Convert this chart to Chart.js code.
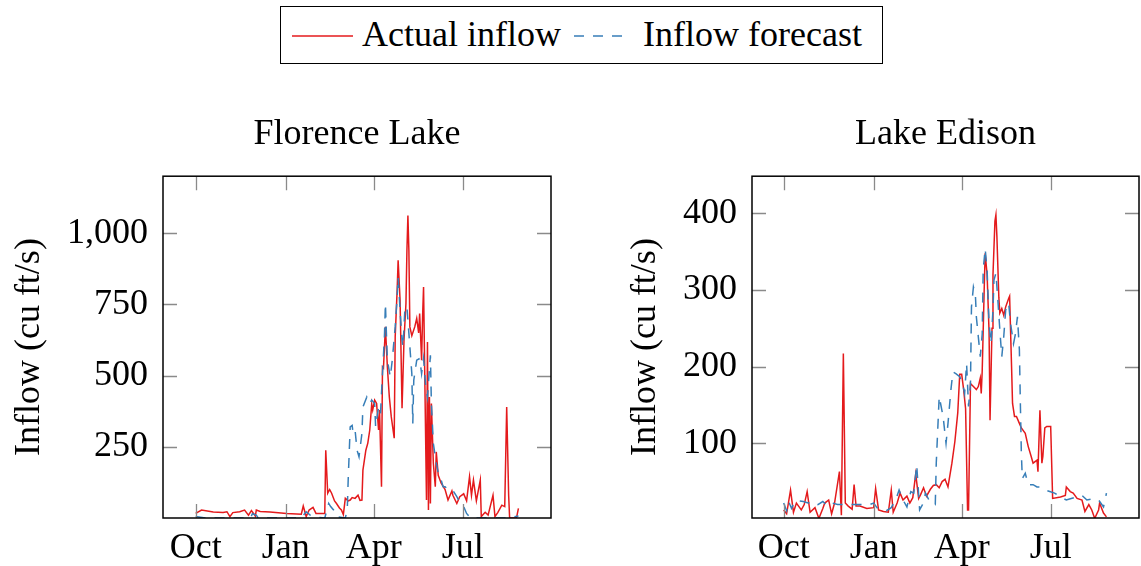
<!DOCTYPE html>
<html>
<head>
<meta charset="utf-8">
<title>Inflow: Florence Lake and Lake Edison</title>
<script src="https://cdn.jsdelivr.net/npm/chart.js@4.4.1/dist/chart.umd.min.js"></script>
<style>
  html, body { margin: 0; padding: 0; background: #fff; }
  body { width: 1141px; height: 566px; position: relative; overflow: hidden; font-family: "Liberation Serif", "DejaVu Serif", serif; }
  canvas { position: absolute; top: 0; }
  #legend { position: absolute; left: 280px; top: 6px; width: 603px; height: 58px; border: 1.5px solid #000; box-sizing: border-box; }
  .lg-text { position: absolute; top: 9px; font-size: 36px; line-height: 36px; color: #000; white-space: nowrap; }
  .lg-line { position: absolute; top: 27px; }
</style>
</head>
<body>
<div id="legend">
  <svg class="lg-line" style="left:11px" width="62" height="4"><line x1="0" y1="2" x2="61" y2="2" stroke="#e41a1c" stroke-width="1.5"/></svg>
  <span class="lg-text" style="left:81px">Actual inflow</span>
  <svg class="lg-line" style="left:293px" width="56" height="4"><line x1="0" y1="2" x2="55" y2="2" stroke="#377eb8" stroke-width="1.5" stroke-dasharray="10 9"/></svg>
  <span class="lg-text" style="left:362px">Inflow forecast</span>
</div>
<canvas id="florence" width="600" height="566" style="left:0px"></canvas>
<canvas id="edison" width="541" height="566" style="left:600px"></canvas>
<script>
// day 0 = 1 Oct, values in cu ft/s
const monthTicks = [0, 92, 182, 273];
const monthLabels = ['Oct', 'Jan', 'Apr', 'Jul'];

const florenceTicks = [250, 500, 750, 1000];
const edisonTicks = [100, 200, 300, 400];

const florenceActual = [[0,16],[6,28],[18,21],[28,19],[32,22],[35,5],[38,19],[45,22],[50,28],[54,10],[57,26],[61,7],[62,28],[66,23],[76,21],[93,16],[108,13],[110,42],[113,5],[116,28],[120,37],[123,16],[132,16],[133,238],[135,87],[137,100],[139,87],[142,60],[144,51],[147,35],[149,28],[151,12],[153,69],[156,60],[158,63],[160,72],[163,69],[166,80],[168,62],[170,63],[171,168],[174,238],[176,263],[178,309],[180,400],[181,379],[183,414],[185,402],[187,309],[188,379],[190,110],[191,530],[192,526],[194,671],[196,530],[198,425],[200,355],[203,280],[204,636],[206,800],[207,905],[209,764],[211,385],[213,624],[215,753],[216,940],[217,1062],[218,940],[219,671],[221,640],[224,671],[226,701],[228,650],[229,718],[231,554],[232,706],[233,811],[236,63],[237,618],[238,28],[239,425],[240,51],[241,402],[243,192],[245,110],[246,232],[248,150],[251,122],[255,100],[258,63],[262,95],[263,80],[267,51],[270,75],[274,85],[277,60],[280,145],[282,80],[284,133],[287,60],[291,133],[292,5],[296,20],[299,10],[304,80],[306,5],[309,20],[313,45],[316,40],[318,390],[320,80],[321,0],[328,0],[330,34]];

const florenceForecast = [[0,5],[10,0],[30,0],[56,0],[58,15],[62,10],[64,0],[90,0],[108,0],[113,22],[117,10],[124,3],[132,0],[136,51],[138,40],[141,28],[144,5],[153,0],[155,30],[156,140],[158,320],[160,325],[161,297],[163,308],[165,238],[167,215],[170,297],[171,390],[175,425],[178,402],[180,414],[183,402],[184,320],[187,390],[189,367],[191,507],[193,636],[194,753],[195,650],[196,554],[199,495],[201,554],[204,671],[206,776],[207,846],[209,729],[211,624],[212,600],[214,741],[216,741],[218,648],[221,507],[222,332],[223,484],[226,554],[229,560],[231,507],[233,560],[235,472],[237,425],[240,571],[241,402],[243,262],[246,193],[248,158],[250,145],[253,110],[255,110],[260,95],[263,97],[267,75],[270,55],[274,40],[277,16],[281,0],[300,0],[320,0],[330,7]];

const edisonActual = [[0,13],[3,8],[7,39],[10,10],[13,22],[18,13],[21,20],[24,37],[27,10],[32,16],[36,2],[40,15],[42,22],[46,26],[49,8],[52,22],[57,63],[59,6],[61,217],[63,22],[66,18],[70,14],[72,46],[74,18],[78,18],[85,15],[92,16],[94,41],[97,13],[102,11],[107,10],[110,39],[112,10],[116,22],[119,35],[122,26],[126,31],[129,22],[132,29],[135,60],[138,28],[140,33],[143,42],[146,31],[150,40],[153,45],[156,46],[159,42],[162,50],[165,53],[168,43],[172,74],[175,102],[178,140],[180,190],[182,190],[184,170],[186,145],[188,13],[189,13],[191,178],[194,174],[197,170],[199,174],[201,185],[202,165],[203,195],[205,300],[206,348],[208,320],[210,245],[211,130],[213,250],[214,320],[216,390],[217,398],[218,370],[220,290],[221,270],[223,276],[225,267],[227,278],[230,289],[231,292],[233,200],[234,152],[236,135],[238,135],[241,126],[243,120],[247,113],[250,96],[253,83],[255,74],[259,78],[260,63],[262,143],[264,74],[265,83],[267,120],[269,122],[273,122],[275,28],[283,30],[288,32],[289,43],[293,37],[296,35],[300,28],[305,26],[308,11],[312,20],[315,13],[318,2],[322,13],[323,22],[327,9],[330,4]];

const edisonForecast = [[0,22],[3,12],[5,24],[8,15],[11,24],[15,25],[20,24],[25,22],[30,24],[35,20],[40,24],[45,18],[50,22],[55,20],[60,20],[70,20],[80,20],[88,20],[92,22],[96,15],[100,14],[105,12],[110,16],[115,28],[118,39],[122,26],[126,17],[130,37],[133,35],[136,72],[139,13],[142,20],[145,35],[150,22],[155,20],[156,74],[159,161],[161,148],[163,135],[166,100],[168,126],[171,170],[173,193],[176,191],[180,187],[183,178],[185,165],[187,204],[189,148],[191,178],[192,278],[194,304],[196,294],[197,265],[199,239],[201,213],[203,243],[204,326],[206,354],[208,326],[210,256],[212,230],[214,274],[215,313],[217,322],[219,287],[221,248],[223,213],[225,239],[227,274],[230,283],[232,256],[235,230],[237,243],[239,265],[241,222],[242,152],[243,87],[244,54],[247,61],[250,46],[255,46],[259,43],[262,43],[267,39],[272,37],[277,35],[283,30],[289,26],[294,28],[300,30],[305,32],[310,26],[317,28],[322,26],[327,17],[329,28],[330,35]];

const RED = '#e41a1c';
const BLUE = '#377eb8';
const FONT = '"Liberation Serif", "DejaVu Serif", serif';

Chart.defaults.font.family = FONT;
Chart.defaults.color = '#000';

// pgfplots style frame with inward ticks on all four sides
const frameTicks = {
  id: 'frameTicks',
  afterDatasetsDraw(chart) {
    const { ctx, chartArea: a, scales: { x, y } } = chart;
    const len = 14;
    ctx.save();
    ctx.strokeStyle = '#8a8a8a';
    ctx.lineWidth = 1.3;
    ctx.beginPath();
    x.ticks.forEach(t => {
      const px = Math.round(x.getPixelForValue(t.value)) + 0.5;
      ctx.moveTo(px, a.bottom); ctx.lineTo(px, a.bottom - len);
      ctx.moveTo(px, a.top); ctx.lineTo(px, a.top + len);
    });
    y.ticks.forEach(t => {
      const py = Math.round(y.getPixelForValue(t.value)) + 0.5;
      ctx.moveTo(a.left, py); ctx.lineTo(a.left + len, py);
      ctx.moveTo(a.right, py); ctx.lineTo(a.right - len, py);
    });
    ctx.stroke();
    ctx.strokeStyle = '#000';
    ctx.lineWidth = 1.5;
    ctx.strokeRect(a.left, a.top, a.right - a.left, a.bottom - a.top);
    ctx.restore();
  }
};

function toPoints(pairs) {
  return pairs.map(p => ({ x: p[0], y: p[1] }));
}

function makeChart(id, opts) {
  return new Chart(document.getElementById(id), {
    type: 'line',
    data: {
      datasets: [
        { label: 'Actual inflow', data: toPoints(opts.actual), borderColor: RED, borderWidth: 1.5, order: 1 },
        { label: 'Inflow forecast', data: toPoints(opts.forecast), borderColor: BLUE, borderWidth: 1.5, borderDash: [10, 9], order: 0 }
      ]
    },
    options: {
      responsive: false,
      animation: false,
      elements: { point: { radius: 0 }, line: { tension: 0, fill: false } },
      layout: { padding: { top: 113, left: 0, right: opts.padRight, bottom: 0 } },
      plugins: {
        legend: { display: false },
        tooltip: { enabled: false },
        title: {
          display: true, text: opts.title, fullSize: false, color: '#000',
          font: { family: FONT, size: 36, weight: 'normal' },
          padding: { top: 0, bottom: 20 }
        }
      },
      scales: {
        x: {
          type: 'linear', min: opts.xMin, max: opts.xMax,
          grid: { display: false, drawTicks: false },
          border: { display: false },
          afterBuildTicks: s => { s.ticks = monthTicks.map(v => ({ value: v })); },
          afterFit: s => { s.height = 48; },
          ticks: {
            padding: 9, maxRotation: 0, autoSkip: false,
            font: { family: FONT, size: 36 },
            callback: v => monthLabels[monthTicks.indexOf(v)]
          }
        },
        y: {
          type: 'linear', min: opts.yMin, max: opts.yMax,
          grid: { display: false, drawTicks: false },
          border: { display: false },
          afterBuildTicks: s => { s.ticks = opts.yTicks.map(v => ({ value: v })); },
          afterFit: s => { s.width = opts.yWidth; },
          ticks: {
            padding: 15, autoSkip: false,
            font: { family: FONT, size: 36 },
            callback: v => v.toLocaleString('en-US')
          },
          title: {
            display: true, text: 'Inflow (cu ft/s)', color: '#000',
            font: { family: FONT, size: 36 },
            padding: { top: opts.yTitlePad, bottom: 0 }
          }
        }
      }
    },
    plugins: [frameTicks]
  });
}

makeChart('florence', {
  title: 'Florence Lake',
  actual: florenceActual, forecast: florenceForecast,
  xMin: -33.4, xMax: 363.3, yMin: 0, yMax: 1200,
  yTicks: florenceTicks, yWidth: 163, yTitlePad: 8, padRight: 49
});

makeChart('edison', {
  title: 'Lake Edison',
  actual: edisonActual, forecast: edisonForecast,
  xMin: -32.4, xMax: 363.3, yMin: 2.5, yMax: 448.5,
  yTicks: edisonTicks, yWidth: 152, yTitlePad: 24, padRight: 2
});
</script>
</body>
</html>
